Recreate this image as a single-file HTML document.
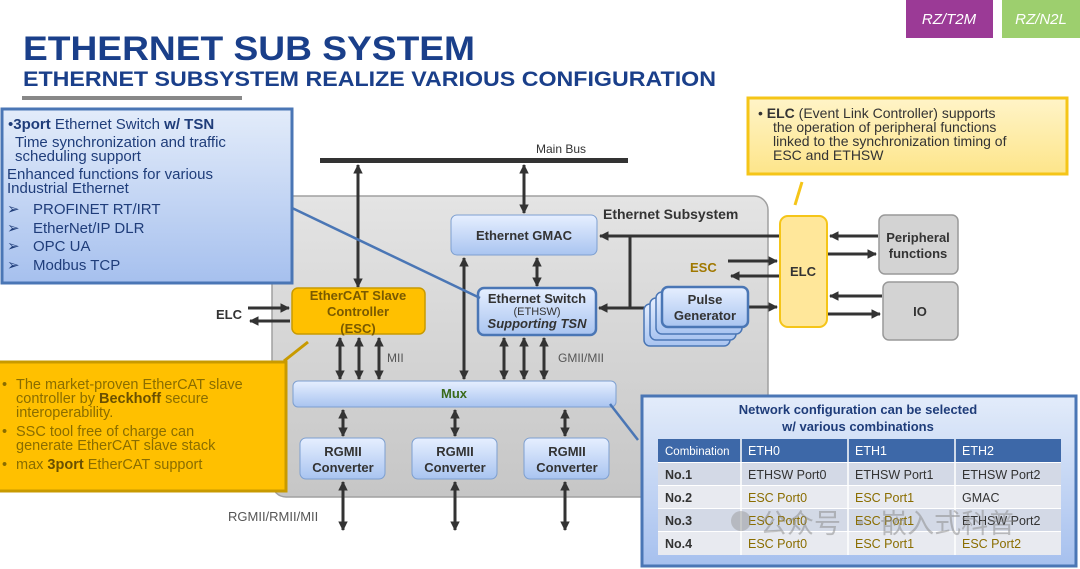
<!DOCTYPE html>
<html><head><meta charset="utf-8"><style>
html,body{margin:0;padding:0;background:#fff}
svg{display:block;font-family:"Liberation Sans","Noto Sans CJK SC",sans-serif}
</style></head><body>
<svg width="1080" height="569" viewBox="0 0 1080 569" xmlns="http://www.w3.org/2000/svg">
<defs>
<linearGradient id="lb" x1="0" y1="0" x2="0" y2="1"><stop offset="0" stop-color="#e6efff"/><stop offset="1" stop-color="#a9c4f0"/></linearGradient>
<linearGradient id="cb" x1="0" y1="0" x2="0" y2="1"><stop offset="0" stop-color="#e3ecfa"/><stop offset="1" stop-color="#a6c0ee"/></linearGradient>
<linearGradient id="gy" x1="0" y1="0" x2="0" y2="1"><stop offset="0" stop-color="#e4e4e4"/><stop offset="1" stop-color="#c6c6c6"/></linearGradient>
<linearGradient id="yl" x1="0" y1="0" x2="0" y2="1"><stop offset="0" stop-color="#fff4c8"/><stop offset="1" stop-color="#fde58a"/></linearGradient>
<marker id="a" viewBox="0 0 10 10" refX="9" refY="5" markerWidth="3.2" markerHeight="3.2" orient="auto-start-reverse"><path d="M0,0L10,5L0,10z" fill="#333"/></marker>
</defs>

<rect x="906" y="0" width="87" height="38" fill="#9b3a96"/>
<text x="949" y="24" fill="#fff" font-size="15" font-style="italic" text-anchor="middle">RZ/T2M</text>
<rect x="1002" y="0" width="78" height="38" fill="#9dcf6e"/>
<text x="1041" y="24" fill="#fff" font-size="15" font-style="italic" text-anchor="middle">RZ/N2L</text>

<text x="23" y="60" fill="#1a3f8a" font-size="34" font-weight="bold" textLength="452" lengthAdjust="spacingAndGlyphs">ETHERNET SUB SYSTEM</text>
<text x="23" y="86" fill="#1a3f8a" font-size="21" font-weight="bold" textLength="693" lengthAdjust="spacingAndGlyphs">ETHERNET SUBSYSTEM REALIZE VARIOUS CONFIGURATION</text>
<rect x="22" y="96" width="220" height="4" fill="#888"/>

<rect x="272" y="196" width="496" height="301" rx="14" fill="url(#gy)" stroke="#a0a0a0" stroke-width="1.5"/>
<text x="603" y="219" font-size="14" font-weight="bold" fill="#333">Ethernet Subsystem</text>

<rect x="320" y="158" width="308" height="5" fill="#333"/>
<text x="536" y="153" font-size="12" fill="#333">Main Bus</text>

<g stroke="#333" stroke-width="3" fill="none" marker-start="url(#a)" marker-end="url(#a)">
<line x1="358" y1="165" x2="358" y2="287"/>
<line x1="524" y1="165" x2="524" y2="213"/>
<line x1="537" y1="258" x2="537" y2="286"/>
<line x1="464" y1="258" x2="464" y2="379"/>
<line x1="340" y1="338" x2="340" y2="379"/>
<line x1="359" y1="338" x2="359" y2="379"/>
<line x1="379" y1="338" x2="379" y2="379"/>
<line x1="504" y1="338" x2="504" y2="379"/>
<line x1="524" y1="338" x2="524" y2="379"/>
<line x1="544" y1="338" x2="544" y2="379"/>
<line x1="343" y1="410" x2="343" y2="436"/>
<line x1="455" y1="410" x2="455" y2="436"/>
<line x1="565" y1="410" x2="565" y2="436"/>
<line x1="343" y1="482" x2="343" y2="530"/>
<line x1="455" y1="482" x2="455" y2="530"/>
<line x1="565" y1="482" x2="565" y2="530"/>
<line x1="599" y1="308" x2="660" y2="308"/>
</g>
<g stroke="#333" stroke-width="3" fill="none" marker-end="url(#a)">
<line x1="780" y1="236" x2="600" y2="236"/>
<line x1="728" y1="261" x2="777" y2="261"/>
<line x1="779" y1="276" x2="731" y2="276"/>
<line x1="749" y1="307" x2="777" y2="307"/>
<line x1="878" y1="236" x2="830" y2="236"/>
<line x1="828" y1="254" x2="876" y2="254"/>
<line x1="882" y1="296" x2="830" y2="296"/>
<line x1="828" y1="314" x2="880" y2="314"/>
<line x1="248" y1="308" x2="289" y2="308"/>
<line x1="290" y1="321" x2="250" y2="321"/>
</g>
<line x1="630" y1="236" x2="630" y2="308" stroke="#333" stroke-width="3"/>

<text x="387" y="362" font-size="12" fill="#555">MII</text>
<text x="558" y="362" font-size="12" fill="#555">GMII/MII</text>
<text x="228" y="521" font-size="13" fill="#555">RGMII/RMII/MII</text>
<text x="216" y="319" font-size="13" font-weight="bold" fill="#333">ELC</text>
<text x="690" y="272" font-size="13" font-weight="bold" fill="#a07800">ESC</text>

<rect x="451" y="215" width="146" height="40" rx="6" fill="url(#lb)" stroke="#7d9fd0"/>
<text x="524" y="240" font-size="13" font-weight="bold" fill="#333" text-anchor="middle">Ethernet GMAC</text>
<rect x="478" y="288" width="118" height="47" rx="6" fill="url(#lb)" stroke="#4a76b5" stroke-width="2.5"/>
<text x="537" y="303" font-size="13" font-weight="bold" fill="#333" text-anchor="middle">Ethernet Switch</text>
<text x="537" y="315" font-size="11" fill="#333" text-anchor="middle">(ETHSW)</text>
<text x="537" y="328" font-size="13" font-weight="bold" font-style="italic" fill="#333" text-anchor="middle">Supporting TSN</text>

<rect x="644" y="304" width="86" height="42" rx="6" fill="url(#lb)" stroke="#4a76b5" stroke-width="1.5"/>
<rect x="650" y="298" width="86" height="42" rx="6" fill="url(#lb)" stroke="#4a76b5" stroke-width="1.5"/>
<rect x="656" y="292" width="86" height="42" rx="6" fill="url(#lb)" stroke="#4a76b5" stroke-width="1.5"/>
<rect x="662" y="287" width="86" height="40" rx="6" fill="url(#lb)" stroke="#4a76b5" stroke-width="2.5"/>
<text x="705" y="304" font-size="13" font-weight="bold" fill="#333" text-anchor="middle">Pulse</text>
<text x="705" y="320" font-size="13" font-weight="bold" fill="#333" text-anchor="middle">Generator</text>

<rect x="780" y="216" width="47" height="111" rx="8" fill="#ffe79a" stroke="#f5c518" stroke-width="2"/>
<text x="803" y="276" font-size="13" font-weight="bold" fill="#333" text-anchor="middle">ELC</text>
<rect x="879" y="215" width="79" height="59" rx="6" fill="#d3d3d3" stroke="#999" stroke-width="1.5"/>
<text x="918" y="242" font-size="13" font-weight="bold" fill="#333" text-anchor="middle">Peripheral</text>
<text x="918" y="258" font-size="13" font-weight="bold" fill="#333" text-anchor="middle">functions</text>
<rect x="883" y="282" width="75" height="58" rx="6" fill="#d3d3d3" stroke="#999" stroke-width="1.5"/>
<text x="920" y="316" font-size="13" font-weight="bold" fill="#333" text-anchor="middle">IO</text>
<line x1="795" y1="205" x2="802" y2="182" stroke="#f5c518" stroke-width="3"/>

<rect x="292" y="288" width="133" height="46" rx="6" fill="#ffc000" stroke="#c89a00" stroke-width="1.5"/>
<text x="358" y="300" font-size="13" font-weight="bold" fill="#7a5a00" text-anchor="middle">EtherCAT Slave</text>
<text x="358" y="316" font-size="13" font-weight="bold" fill="#7a5a00" text-anchor="middle">Controller</text>
<text x="358" y="333" font-size="13" font-weight="bold" fill="#7a5a00" text-anchor="middle">(ESC)</text>

<rect x="293" y="381" width="323" height="26" rx="5" fill="url(#lb)" stroke="#7d9fd0"/>
<text x="454" y="398" font-size="13" font-weight="bold" fill="#3a6a1a" text-anchor="middle">Mux</text>

<g font-size="13" font-weight="bold" fill="#333" text-anchor="middle">
<rect x="300" y="438" width="85" height="41" rx="6" fill="url(#lb)" stroke="#7d9fd0"/>
<text x="343" y="456">RGMII</text><text x="343" y="472">Converter</text>
<rect x="412" y="438" width="85" height="41" rx="6" fill="url(#lb)" stroke="#7d9fd0"/>
<text x="455" y="456">RGMII</text><text x="455" y="472">Converter</text>
<rect x="524" y="438" width="85" height="41" rx="6" fill="url(#lb)" stroke="#7d9fd0"/>
<text x="567" y="456">RGMII</text><text x="567" y="472">Converter</text>
</g>

<line x1="290" y1="207" x2="480" y2="298" stroke="#4a76b5" stroke-width="2.5"/>
<rect x="2" y="109" width="290" height="174" fill="url(#cb)" stroke="#4a76b5" stroke-width="3"/>
<g font-size="15" fill="#1f3d7a">
<text x="8" y="129">•<tspan font-weight="bold">3port</tspan> Ethernet Switch <tspan font-weight="bold">w/ TSN</tspan></text>
<text x="15" y="147">Time synchronization and traffic</text>
<text x="15" y="161">scheduling support</text>
<text x="7" y="179">Enhanced functions for various</text>
<text x="7" y="193">Industrial Ethernet</text>
<text x="7" y="214">➢</text><text x="33" y="214">PROFINET RT/IRT</text>
<text x="7" y="233">➢</text><text x="33" y="233">EtherNet/IP DLR</text>
<text x="7" y="251">➢</text><text x="33" y="251">OPC UA</text>
<text x="7" y="270">➢</text><text x="33" y="270">Modbus TCP</text>
</g>

<line x1="284" y1="361" x2="308" y2="342" stroke="#c89a00" stroke-width="3"/>
<rect x="-2" y="362" width="288" height="129" fill="#ffc000" stroke="#c89a00" stroke-width="3"/>
<g font-size="14.5" fill="#8a6d00">
<text x="2" y="389">•</text><text x="16" y="389">The market-proven EtherCAT slave</text>
<text x="16" y="403">controller by <tspan font-weight="bold" fill="#6a5000">Beckhoff</tspan> secure</text>
<text x="16" y="417">interoperability.</text>
<text x="2" y="436">•</text><text x="16" y="436">SSC tool free of charge can</text>
<text x="16" y="450">generate EtherCAT slave stack</text>
<text x="2" y="469">•</text><text x="16" y="469">max <tspan font-weight="bold" fill="#6a5000">3port</tspan> EtherCAT support</text>
</g>

<rect x="748" y="98" width="319" height="76" fill="url(#yl)" stroke="#f5c518" stroke-width="3"/>
<g font-size="14" fill="#333">
<text x="758" y="118">• <tspan font-weight="bold">ELC</tspan> (Event Link Controller) supports</text>
<text x="773" y="132">the operation of peripheral functions</text>
<text x="773" y="146">linked to the synchronization timing of</text>
<text x="773" y="160">ESC and ETHSW</text>
</g>

<line x1="610" y1="404" x2="638" y2="440" stroke="#4a76b5" stroke-width="2.5"/>
<rect x="642" y="396" width="434" height="170" fill="url(#cb)" stroke="#4a76b5" stroke-width="3"/>
<text x="858" y="414" font-size="13" font-weight="bold" fill="#1f3d7a" text-anchor="middle">Network configuration can be selected</text>
<text x="858" y="431" font-size="13" font-weight="bold" fill="#1f3d7a" text-anchor="middle">w/ various combinations</text>
<rect x="658" y="439" width="403" height="116" fill="#fff"/>
<rect x="658" y="439" width="403" height="23" fill="#3d68a8"/>
<rect x="658" y="463" width="403" height="22" fill="#d3d9e6"/>
<rect x="658" y="486" width="403" height="22" fill="#e8eaf0"/>
<rect x="658" y="509" width="403" height="22" fill="#d3d9e6"/>
<rect x="658" y="532" width="403" height="23" fill="#e8eaf0"/>
<g stroke="#fff" stroke-width="1.5"><line x1="741" y1="439" x2="741" y2="555"/><line x1="848" y1="439" x2="848" y2="555"/><line x1="955" y1="439" x2="955" y2="555"/></g>
<g font-size="12.5" fill="#fff"><text x="665" y="455" font-size="11.5">Combination</text><text x="748" y="455">ETH0</text><text x="855" y="455">ETH1</text><text x="962" y="455">ETH2</text></g>
<g font-size="12.5" fill="#333">
<text x="665" y="479" font-weight="bold">No.1</text><text x="748" y="479">ETHSW Port0</text><text x="855" y="479">ETHSW Port1</text><text x="962" y="479">ETHSW Port2</text>
<text x="665" y="502" font-weight="bold">No.2</text><text x="748" y="502" fill="#8a6d00">ESC Port0</text><text x="855" y="502" fill="#8a6d00">ESC Port1</text><text x="962" y="502">GMAC</text>
<text x="665" y="525" font-weight="bold">No.3</text><text x="748" y="525" fill="#8a6d00">ESC Port0</text><text x="855" y="525" fill="#8a6d00">ESC Port1</text><text x="962" y="525">ETHSW Port2</text>
<text x="665" y="548" font-weight="bold">No.4</text><text x="748" y="548" fill="#8a6d00">ESC Port0</text><text x="855" y="548" fill="#8a6d00">ESC Port1</text><text x="962" y="548" fill="#8a6d00">ESC Port2</text>
</g>
<circle cx="741" cy="521" r="10" fill="#999" opacity="0.5"/>
<text x="760" y="533" font-size="27" fill="#888" opacity="0.5" font-family="'Noto Sans CJK SC',sans-serif">公众号 · 嵌入式科普</text>
</svg>
</body></html>
